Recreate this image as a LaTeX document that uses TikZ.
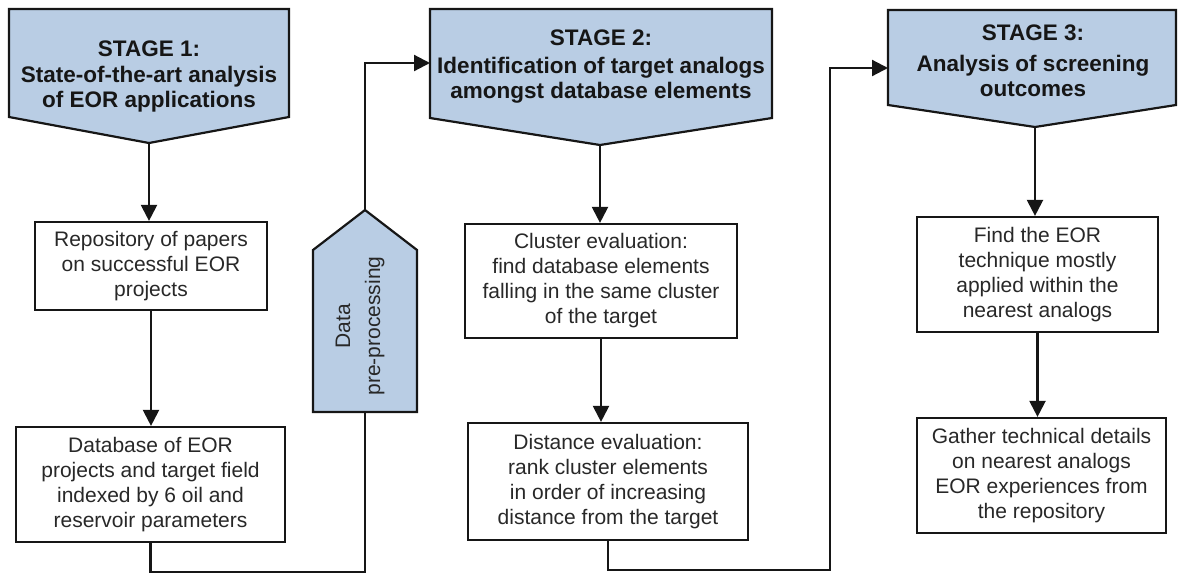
\documentclass[tikz,border=0pt]{standalone}
\usepackage{fontspec}
\setmainfont{Liberation Sans}
\usetikzlibrary{arrows.meta}
\definecolor{stagefill}{RGB}{185,205,228}
\definecolor{ink}{RGB}{22,22,22}
\definecolor{boxtext}{RGB}{40,40,40}
\begin{document}
\begin{tikzpicture}[x=1pt,y=-1pt,
  box/.style={draw=ink, line width=2.2pt, fill=white, align=center, inner sep=0pt,
    font=\fontsize{21}{25}\selectfont, text=boxtext},
  stageshape/.style={draw=ink, line width=2.2pt, fill=stagefill, line join=miter},
  stagetext/.style={align=center, font=\fontsize{22.5}{25}\selectfont\bfseries, text=ink},
  sidetext/.style={align=center, font=\fontsize{21}{30}\selectfont, text=boxtext},
  wire/.style={draw=ink, line width=2.2pt},
  link/.style={wire, -{Triangle[length=16pt,width=16pt]}}
]
\useasboundingbox (0,0) rectangle (1178,576);

% stage headers (downward pentagons)
\draw[stageshape] (9,9) -- (289,9) -- (289,117) -- (149,143) -- (9,117) -- cycle;
\coordinate (s1tip) at (149,143);
\node[stagetext] (s1text) at (149,76) {STAGE 1:\\[1pt]State-of-the-art analysis\\of EOR applications};

\draw[stageshape] (430,9) -- (772,9) -- (772,118) -- (600,145) -- (430,118) -- cycle;
\coordinate (s2tip) at (600,145);
\coordinate (s2in) at (430,63);
\node[stagetext] (s2text) at (601,67) {STAGE 2:\\[3pt]Identification of target analogs\\amongst database elements};

\draw[stageshape] (888,10) -- (1176,10) -- (1176,105) -- (1035,127) -- (888,105) -- cycle;
\coordinate (s3tip) at (1035,127);
\coordinate (s3in) at (888,68);
\node[stagetext] (s3text) at (1033,61) {STAGE 3:\\[6pt]Analysis of screening\\outcomes};

% data pre-processing (upward pentagon)
\draw[stageshape] (365,210) -- (417,250) -- (417,412) -- (313,412) -- (313,250) -- cycle;
\coordinate (dptop) at (365,210);
\coordinate (dpbot) at (365,412);
\node[sidetext, rotate=90] (dptext) at (360,326) {Data\\pre-processing};

% process boxes
\node[box, minimum width=232pt, minimum height=88pt] (repo) at (151,266)
  {Repository of papers\\on successful EOR\\projects};
\node[box, minimum width=269pt, minimum height=115pt] (db) at (150.5,484.5)
  {Database of EOR\\projects and target field\\indexed by 6 oil and\\reservoir parameters};
\node[box, minimum width=272pt, minimum height=114pt] (clus) at (601,281)
  {Cluster evaluation:\\find database elements\\falling in the same cluster\\of the target};
\node[box, minimum width=280pt, minimum height=117pt] (dist) at (608,481.5)
  {Distance evaluation:\\rank cluster elements\\in order of increasing\\distance from the target};
\node[box, minimum width=241pt, minimum height=115pt] (find) at (1037.5,274.5)
  {Find the EOR\\technique mostly\\applied within the\\nearest analogs};
\node[box, minimum width=249pt, minimum height=115pt] (gather) at (1041.5,475.5)
  {Gather technical details\\on nearest analogs\\EOR experiences from\\the repository};

% bends of the routed connectors
\coordinate (lowA) at (365,572);
\coordinate (lowB) at (830,570);

% connectors
\draw[link] (s1tip) -- (s1tip |- repo.north);
\draw[link] (repo.south) -- (repo.south |- db.north);
\draw[wire] (db.south) |- (lowA) -- (dpbot);
\draw[link] (dptop) |- (s2in);
\draw[link] (s2tip) -- (s2tip |- clus.north);
\draw[link] (clus.south) -- (clus.south |- dist.north);
\draw[link] (dist.south) |- (lowB) |- (s3in);
\draw[link] (s3tip) -- (s3tip |- find.north);
\draw[link] (find.south) -- (find.south |- gather.north);
\end{tikzpicture}
\end{document}
